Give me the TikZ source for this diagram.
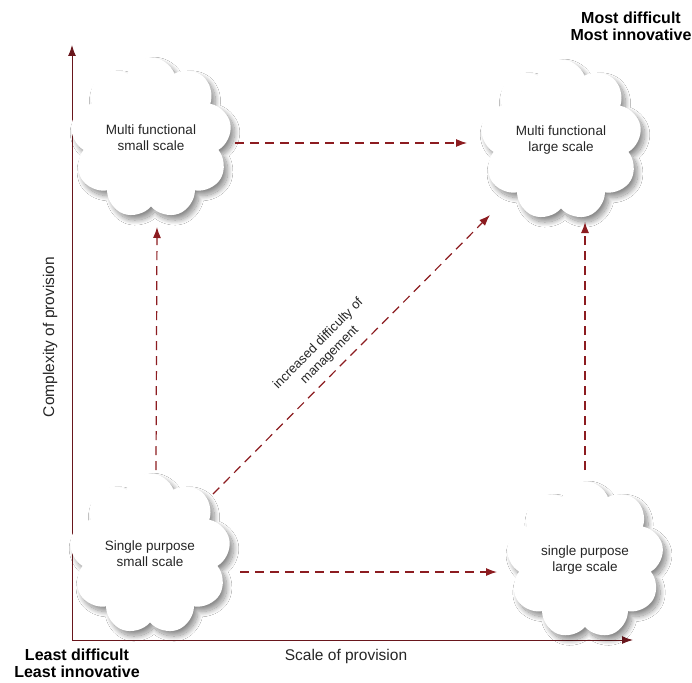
\documentclass[tikz,border=0pt]{standalone}
\usepackage{fontspec}
\setmainfont{Liberation Sans}
\usetikzlibrary{shapes.symbols,arrows.meta,shadows.blur}
\definecolor{axisred}{RGB}{105,22,28}
\definecolor{dashred}{RGB}{140,28,32}
\begin{document}
\begin{tikzpicture}[x=1pt,y=-1pt,
  cloudbox/.style={cloud, cloud puffs=9, cloud puff arc=140, aspect=1,
    minimum width=146pt, minimum height=148pt, fill=white, draw=none,
    align=center, font=\fontsize{13.5}{16}\selectfont, text=black!85,
    blur shadow={shadow xshift=4pt, shadow yshift=-5pt, shadow blur steps=20, shadow blur radius=5pt, shadow opacity=45}},
  axisline/.style={draw=axisred, line width=1pt, -{Latex[length=11pt,width=8pt]}},
  dasharrow/.style={draw=dashred, line width=1.2pt, dash pattern=on 9pt off 6pt, -{Latex[length=11pt,width=8pt]}},
  axislabel/.style={font=\fontsize{15.5}{18}\selectfont, text=black!85},
  cornerlabel/.style={font=\bfseries\fontsize{16}{17}\selectfont, align=center, text=black}]
\useasboundingbox (0,0) rectangle (692,682);
\fill[white] (0,0) rectangle (692,682);
% axes
\coordinate (O) at (72,640);
\coordinate (ytip) at (72,45);
\coordinate (xtip) at (633,640);
\draw[axisline] (O) -- (ytip);
\draw[axisline] (O) -- (xtip);
% clouds
\node[cloudbox] (c1) at (151,138) {Multi functional\\small scale};
\node[cloudbox] (c2) at (561,140) {Multi functional\\large scale};
\node[cloudbox] (c3) at (150,554) {Single purpose\\small scale};
\node[cloudbox] (c4) at (585,560) {single purpose\\large scale};
% connectors
\draw[dasharrow] ([shift={(6,-84)}]c3.center) -- ([shift={(6,89)}]c1.center);
\draw[dasharrow] ([shift={(84,5)}]c1.center) -- ([shift={(-94,3)}]c2.center);
\draw[dasharrow] ([shift={(90,18)}]c3.center) -- ([shift={(-88,12)}]c4.center);
\draw[dasharrow] ([shift={(0,-90)}]c4.center) -- ([shift={(24,82)}]c2.center);
\draw[dasharrow] ([shift={(63,-60)}]c3.center) -- node[pos=0.46, sloped, above=5pt, align=center, font=\fontsize{13}{16}\selectfont, text=black!85] (lbl) {increased difficulty of\\management} ([shift={(-71,75)}]c2.center);
% labels
\node[axislabel, rotate=90] (ylab) at (50,337) {Complexity of provision};
\node[axislabel] (xlab) at (346,656) {Scale of provision};
\node[cornerlabel] (least) at (77,663) {Least difficult\\Least innovative};
\node[cornerlabel] (most) at (631,26) {Most difficult\\Most innovative};
\end{tikzpicture}
\end{document}
